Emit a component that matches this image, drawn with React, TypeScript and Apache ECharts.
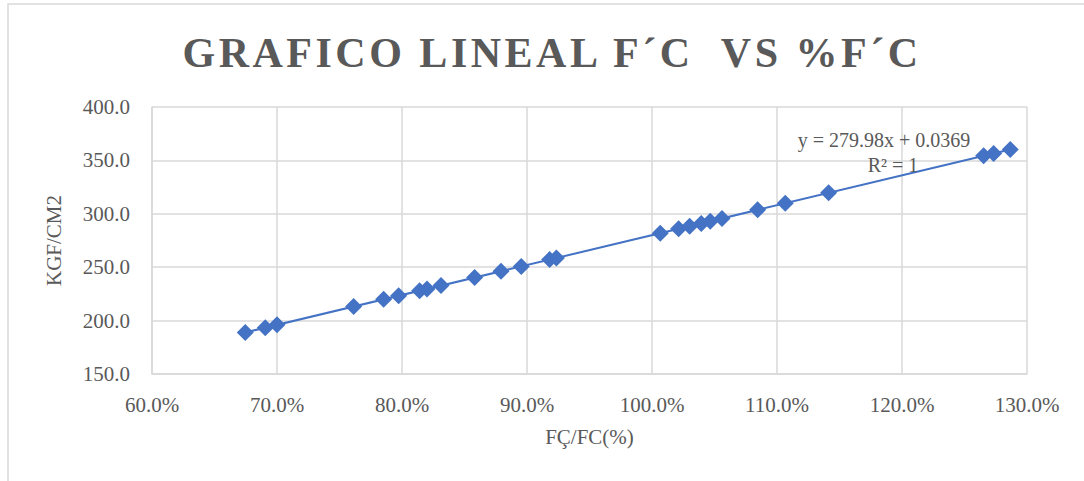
import React, { useEffect, useRef } from "react";
import * as echarts from "echarts";

// Strength ratio (f'c obtained / f'c design) as a fraction
const fcRatio = [
  0.6746, 0.6906, 0.7, 0.7613, 0.7853, 0.7973, 0.8141, 0.82, 0.8312, 0.8581,
  0.8792, 0.8954, 0.9181, 0.9235, 1.0066, 1.0213, 1.0301, 1.0394, 1.0466,
  1.056, 1.0845, 1.1066, 1.1413, 1.2653, 1.2733, 1.2866,
];
// Compressive strength in kgf/cm²
const strength = [
  188.9, 193.4, 196.0, 213.2, 219.9, 223.3, 228.0, 229.6, 232.8, 240.3,
  246.2, 250.7, 257.1, 258.6, 281.9, 286.0, 288.4, 291.0, 293.1, 295.7,
  303.7, 309.9, 319.6, 354.3, 356.5, 360.3,
];
// Linear trendline coefficients
const slope = 279.98;
const intercept = 0.0369;
const rSquared = 1;

const xTicks = { min: 0.6, max: 1.3, interval: 0.1 };
const yTicks = { min: 150, max: 400, interval: 50 };

const TITLE = "GRAFICO LINEAL F´C  VS %F´C";
const grey = "#595959";
const gridGrey = "#D9D9D9";
const blue = "#4472C4";
const serif = "'Liberation Serif', 'Times New Roman', serif";

export default function App() {
  const ref = useRef<HTMLDivElement>(null);

  useEffect(() => {
    if (!ref.current) return;
    const chart = echarts.init(ref.current, undefined, { renderer: "svg" });
    const points = fcRatio.map((x, i) => [x, strength[i]]);
    const xFirst = Math.min(...fcRatio);
    const xLast = Math.max(...fcRatio);
    const trend = [
      [xFirst, slope * xFirst + intercept],
      [xLast, slope * xLast + intercept],
    ];

    chart.setOption({
      animation: false,
      backgroundColor: "#ffffff",
      title: {
        text: TITLE,
        left: 547,
        textAlign: "center",
        top: 27,
        textStyle: {
          fontFamily: serif,
          fontWeight: "bold",
          fontSize: 42,
          color: grey,
        },
      },
      graphic: [
        {
          type: "rect",
          shape: { x: 8, y: 4, width: 2000, height: 2000 },
          style: { fill: "none", stroke: gridGrey, lineWidth: 1.5 },
          silent: true,
        },
        {
          type: "text",
          x: 884,
          y: 140,
          style: {
            text: `y = ${slope}x + ${intercept}`,
            fontFamily: serif,
            fontSize: 20,
            fill: grey,
            align: "center",
            verticalAlign: "middle",
          },
          z: 10,
        },
        {
          type: "text",
          x: 893,
          y: 165,
          style: {
            text: `R² = ${rSquared}`,
            fontFamily: serif,
            fontSize: 20,
            fill: grey,
            align: "center",
            verticalAlign: "middle",
          },
          z: 10,
        },
      ],
      grid: { left: 152, right: 57, top: 107, bottom: 107 },
      xAxis: {
        type: "value",
        min: xTicks.min,
        max: xTicks.max,
        interval: xTicks.interval,
        name: "FÇ/FC(%)",
        nameLocation: "middle",
        nameGap: 52,
        nameTextStyle: { fontFamily: serif, fontSize: 21, color: grey },
        axisLine: { show: true, lineStyle: { color: gridGrey, width: 1.5 } },
        axisTick: { show: false },
        splitLine: { show: true, lineStyle: { color: gridGrey, width: 1.5 } },
        axisLabel: {
          fontFamily: serif,
          fontSize: 21,
          color: grey,
          margin: 20,
          formatter: (v: number) => (v * 100).toFixed(1) + "%",
        },
      },
      yAxis: {
        type: "value",
        min: yTicks.min,
        max: yTicks.max,
        interval: yTicks.interval,
        name: "KGF/CM2",
        nameLocation: "middle",
        nameGap: 88,
        nameRotate: 90,
        nameTextStyle: { fontFamily: serif, fontSize: 21, color: grey },
        axisLine: { show: true, lineStyle: { color: gridGrey, width: 1.5 } },
        axisTick: { show: false },
        splitLine: { show: true, lineStyle: { color: gridGrey, width: 1.5 } },
        axisLabel: {
          fontFamily: serif,
          fontSize: 21,
          color: grey,
          margin: 22,
          formatter: (v: number) => v.toFixed(1),
        },
      },
      series: [
        {
          name: "Tendencia",
          type: "line",
          data: trend,
          showSymbol: false,
          symbol: "none",
          lineStyle: { color: blue, width: 2 },
          z: 2,
        },
        {
          name: "F'C",
          type: "scatter",
          data: points,
          symbol: "diamond",
          symbolSize: 17,
          itemStyle: { color: blue, opacity: 1 },
          z: 3,
        },
      ],
    });
    return () => chart.dispose();
  }, []);

  return (
    <>
      <style>{`#chart svg text[style*="42px"] { letter-spacing: 3.5px; }`}</style>
      <div
        id="chart"
        ref={ref}
        style={{ position: "absolute", left: 0, top: 0, width: 1084, height: 481 }}
      />
    </>
  );
}
